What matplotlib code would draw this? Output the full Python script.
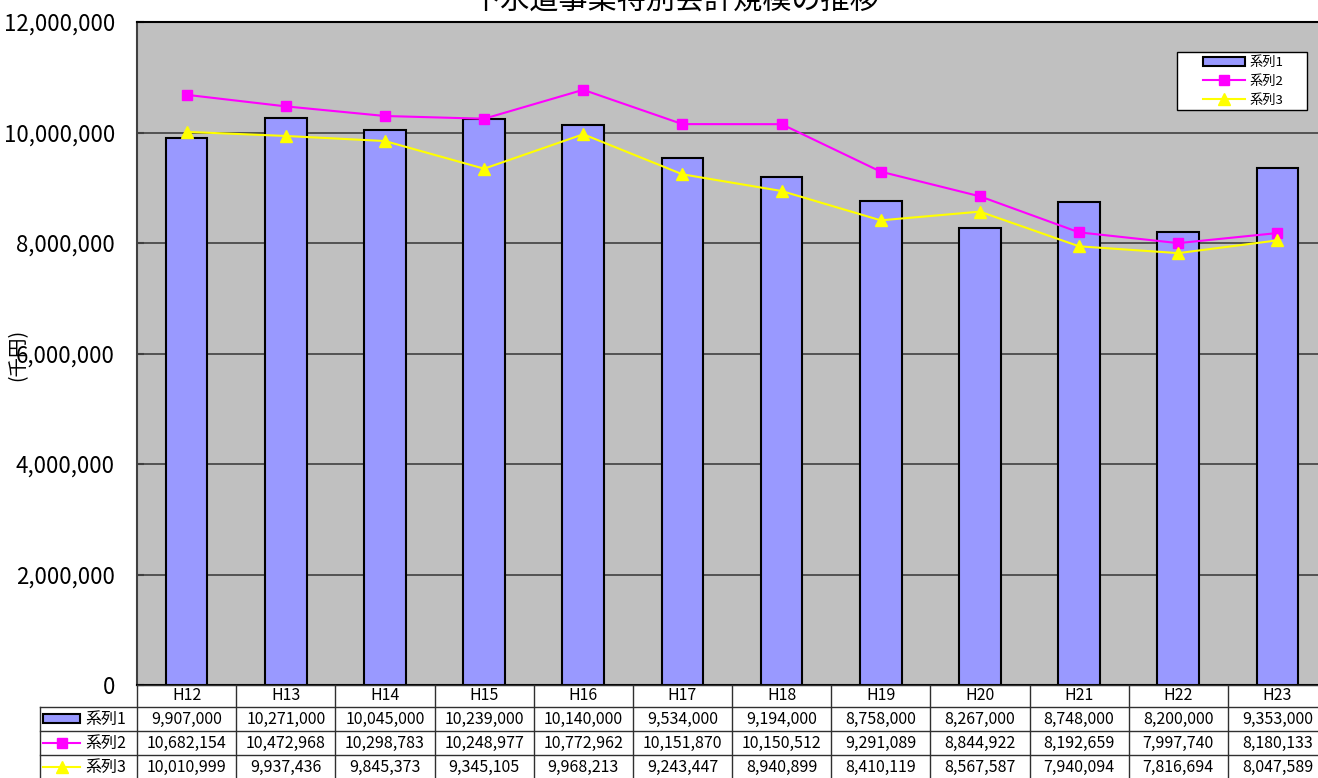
import numpy as np
import matplotlib.pyplot as plt
from matplotlib.patches import Rectangle
from matplotlib.lines import Line2D

plt.rcParams['font.family'] = ['Noto Sans CJK JP', 'DejaVu Sans']

years = ['H12', 'H13', 'H14', 'H15', 'H16', 'H17', 'H18', 'H19', 'H20', 'H21', 'H22', 'H23']
s1 = [9907000, 10271000, 10045000, 10239000, 10140000, 9534000, 9194000, 8758000, 8267000, 8748000, 8200000, 9353000]
s2 = [10682154, 10472968, 10298783, 10248977, 10772962, 10151870, 10150512, 9291089, 8844922, 8192659, 7997740, 8180133]
s3 = [10010999, 9937436, 9845373, 9345105, 9968213, 9243447, 8940899, 8410119, 8567587, 7940094, 7816694, 8047589]
names = ['系列1', '系列2', '系列3']
title = '下水道事業特別会計規模の推移'

W, H = 1318, 778
x0, x1 = 137, 1327      # plot left/right in px (right edge runs past the figure)
ytop, ybot = 22, 685    # plot top/bottom in px from top
colw = (x1 - x0) / len(years)

fig = plt.figure(figsize=(W/100, H/100), dpi=100)
ax = fig.add_axes([x0/W, (H-ybot)/H, (x1-x0)/W, (ybot-ytop)/H])
ax.set_facecolor('#C0C0C0')

x = np.arange(len(years))
b1 = ax.bar(x, s1, width=0.42, color='#9999FF', edgecolor='black', lw=1.5, zorder=3, label=names[0])
l2, = ax.plot(x, s2, color='#FF00FF', lw=1.5, marker='s', ms=7, zorder=4, label=names[1])
l3, = ax.plot(x, s3, color='#FFFF00', lw=1.5, marker='^', ms=8, zorder=4, label=names[2])

ax.set_xlim(-0.5, len(years)-0.5)
ax.set_ylim(0, 12000000)
ax.set_yticks(np.arange(0, 12000001, 2000000))
ax.set_yticklabels(['{:,}'.format(v) for v in range(0, 12000001, 2000000)], fontsize=16)
ax.set_xticks([])
ax.tick_params(axis='y', direction='in', length=5, width=1.5, pad=16, color='#404040')
ax.yaxis.grid(True, color='#404040', lw=1.2, zorder=1)
ax.set_axisbelow(True)
for sp in ['top', 'bottom']:
    ax.spines[sp].set_color('black')
    ax.spines[sp].set_linewidth(1.5)
ax.spines['left'].set_color('#404040')
ax.spines['left'].set_linewidth(1.5)
ax.spines['right'].set_visible(False)

# legend box (white frame) with the entries drawn inside it
fx = lambda px: (px - x0) / (x1 - x0)
fy = lambda py: (ybot - py) / (ybot - ytop)
ax.add_patch(Rectangle((fx(1177), fy(110)), fx(1307) - fx(1177), fy(52) - fy(110),
                       transform=ax.transAxes, facecolor='white', edgecolor='black', lw=1, zorder=5))
leg = ax.legend([b1, l2, l3], names, loc='upper left', bbox_to_anchor=(fx(1199), fy(52)),
                fontsize=9.5, frameon=False, handlelength=3.2, handletextpad=0.3,
                labelspacing=0.45, borderpad=0.3, borderaxespad=0)
leg.set_zorder(6)

fig.text(675/W, 1 - 2/H, title, ha='center', va='center', fontsize=21)
fig.text(18/W, 1 - 355/H, '(千円)', rotation=90, ha='center', va='center', fontsize=14)

# data table under the plot
tb = fig.add_axes([40/W, 0, (x1-40)/W, (H-ybot)/H])
tb.set_xlim(40, x1)
tb.set_ylim(H, ybot)
tb.axis('off')
lc = '#303030'
rows = [ybot, 707, 731, 755, H + 24]
edges = [x0 + i*colw for i in range(len(years)+1)]
tb.plot([x0, x1], [ybot, ybot], color=lc, lw=1, clip_on=False)
for yy in rows[1:4]:
    tb.plot([40, x1], [yy, yy], color=lc, lw=1, clip_on=False)
for e in edges:
    tb.plot([e, e], [ybot, H], color=lc, lw=1, clip_on=False)
tb.plot([40, 40], [707, H], color=lc, lw=1, clip_on=False)

for i, yr in enumerate(years):
    tb.text(edges[i] + colw/2, (rows[0]+rows[1])/2, yr, ha='center', va='center', fontsize=11.5)
for r, vals in enumerate([s1, s2, s3]):
    yc = (rows[r+1] + rows[r+2]) / 2 if r < 2 else (755 + 779) / 2
    for i, v in enumerate(vals):
        tb.text(edges[i] + colw/2, yc, '{:,}'.format(v), ha='center', va='center', fontsize=11.5)
    tb.text(85, yc, names[r], ha='left', va='center', fontsize=11.5)
    if r == 0:
        tb.add_patch(Rectangle((43, yc-4.5), 37, 9, facecolor='#9999FF', edgecolor='black', lw=1.5))
    elif r == 1:
        tb.add_line(Line2D([43, 80], [yc, yc], color='#FF00FF', lw=1.5))
        tb.plot([61.5], [yc], marker='s', ms=7, color='#FF00FF')
    else:
        tb.add_line(Line2D([43, 80], [yc, yc], color='#FFFF00', lw=1.5))
        tb.plot([61.5], [yc], marker='^', ms=8, color='#FFFF00')

fig.savefig('out.png', dpi=100)
